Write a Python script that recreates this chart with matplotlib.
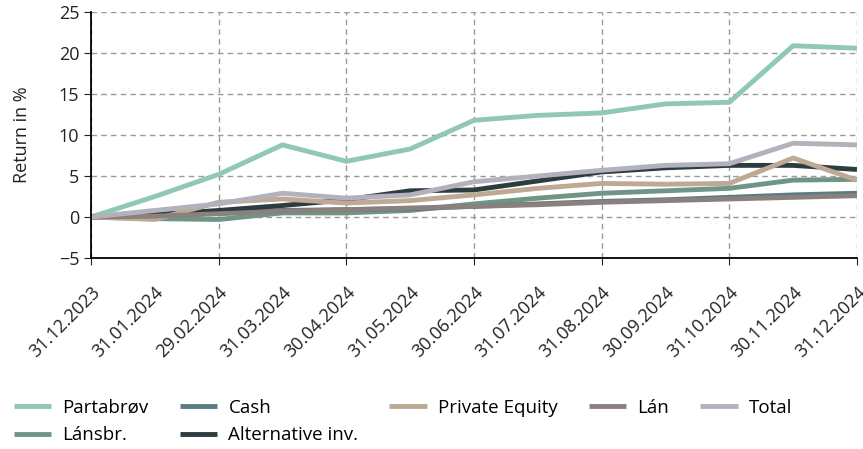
import matplotlib
matplotlib.use('Agg')
import matplotlib.pyplot as plt

plt.rcParams['font.family'] = ['Open Sans', 'DejaVu Sans']

dates = ['31.12.2023', '31.01.2024', '29.02.2024', '31.03.2024', '30.04.2024',
         '31.05.2024', '30.06.2024', '31.07.2024', '31.08.2024', '30.09.2024',
         '31.10.2024', '30.11.2024', '31.12.2024']

partabrov = [0, 2.5, 5.2, 8.8, 6.8, 8.3, 11.8, 12.4, 12.7, 13.8, 14.0, 20.9, 20.6]
lansbr = [0, -0.2, -0.3, 0.5, 0.5, 0.8, 1.6, 2.3, 2.9, 3.2, 3.5, 4.5, 4.6]
cash = [0, 0.2, 0.5, 0.8, 0.9, 1.0, 1.3, 1.6, 1.9, 2.1, 2.4, 2.7, 2.9]
alternative = [0, 0.3, 0.8, 1.4, 2.1, 3.2, 3.3, 4.4, 5.5, 6.0, 6.3, 6.3, 5.8]
private_eq = [0, -0.3, 1.8, 2.2, 1.7, 2.0, 2.7, 3.5, 4.1, 4.0, 4.1, 7.2, 4.5]
laan = [0, 0.1, 0.4, 0.7, 0.9, 1.1, 1.3, 1.5, 1.8, 2.0, 2.2, 2.4, 2.6]
total = [0, 0.8, 1.6, 2.9, 2.3, 2.7, 4.3, 5.0, 5.7, 6.3, 6.5, 9.0, 8.8]

series = [
    ('Partabrøv', partabrov, '#8fc8b3'),
    ('Lánsbr.', lansbr, '#6f9585'),
    ('Cash', cash, '#5a7b82'),
    ('Alternative inv.', alternative, '#2d3c3f'),
    ('Private Equity', private_eq, '#bea995'),
    ('Lán', laan, '#8a817e'),
    ('Total', total, '#b3b1bc'),
]

fig = plt.figure(figsize=(8.63, 4.49), dpi=100)
ax = fig.add_axes([0.1054, 0.4254, 0.8876, 0.5476])

x = list(range(len(dates)))
for name, vals, col in series:
    ax.plot(x, vals, color=col, lw=3.5, label=name, solid_capstyle='butt')

ax.set_xlim(0, len(dates) - 1)
ax.set_ylim(-5, 25)
ax.set_yticks(range(-5, 26, 5))

# ticks + grid every second month, labels every month
ax.set_xticks(x[::2])
ax.set_xticks(x[1::2], minor=True)
ax.set_xticklabels(dates[::2], rotation=45, ha='right', rotation_mode='anchor')
ax.set_xticklabels(dates[1::2], minor=True, rotation=45, ha='right', rotation_mode='anchor')
ax.tick_params(axis='x', which='major', length=5, pad=13)
ax.tick_params(axis='x', which='minor', length=0, pad=18)
ax.tick_params(axis='y', length=5)
ax.tick_params(which='both', labelsize=13, colors='#222222')

ax.grid(True, which='major', color='#9a9a9a', ls=(0, (4, 3)), lw=1)
ax.set_axisbelow(True)
for s in ['top', 'right']:
    ax.spines[s].set_visible(False)
for s in ['left', 'bottom']:
    ax.spines[s].set_linewidth(1.3)

ax.set_ylabel('Return in %', fontsize=13, color='#222222', labelpad=20)

fig.legend(loc='upper left', bbox_to_anchor=(0.016, 0.112), ncol=5, frameon=False,
           fontsize=13.5, handlelength=2.0, handletextpad=0.6, columnspacing=1.65,
           labelspacing=0.5, borderpad=0, borderaxespad=0)

fig.savefig('out.png', dpi=100)
